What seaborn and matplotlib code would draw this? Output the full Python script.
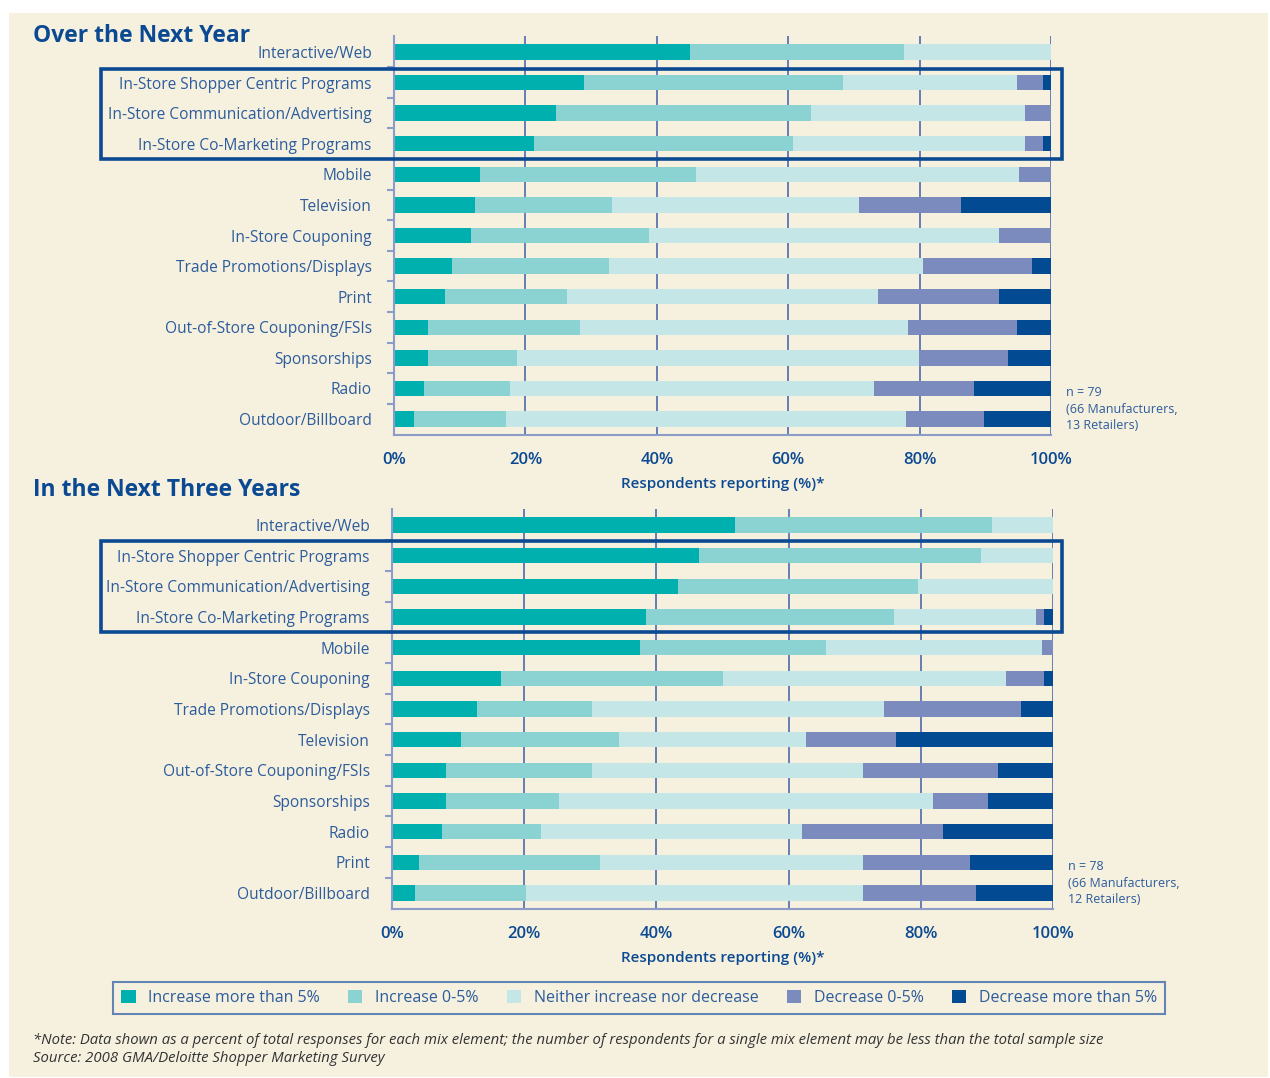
import numpy as np
import pandas as pd
import matplotlib
matplotlib.use("Agg")
import matplotlib.pyplot as plt
import seaborn as sns
from matplotlib.patches import Rectangle, Patch

# data (percent of respondents)
series = ["Increase more than 5%", "Increase 0-5%", "Neither increase nor decrease",
          "Decrease 0-5%", "Decrease more than 5%"]
colors = ["#00B0AE", "#8BD3D2", "#C5E6E6", "#7B8BBD", "#024A92"]

year1_labels = ["Interactive/Web", "In-Store Shopper Centric Programs",
                "In-Store Communication/Advertising", "In-Store Co-Marketing Programs",
                "Mobile", "Television", "In-Store Couponing", "Trade Promotions/Displays",
                "Print", "Out-of-Store Couponing/FSIs", "Sponsorships", "Radio",
                "Outdoor/Billboard"]
year1_inc5 = [45.0, 28.9, 24.6, 21.3, 13.1, 12.4, 11.7, 8.8, 7.7, 5.2, 5.2, 4.6, 3.1]
year1_inc0 = [32.6, 39.4, 38.8, 39.5, 32.9, 20.8, 27.1, 24.0, 18.6, 23.1, 13.5, 13.0, 13.9]
year1_neither = [22.4, 26.5, 32.7, 35.3, 49.1, 37.6, 53.3, 47.7, 47.4, 49.9, 61.2, 55.5, 60.9]
year1_dec0 = [0.0, 4.0, 3.9, 2.7, 4.9, 15.5, 7.9, 16.6, 18.4, 16.6, 13.6, 15.2, 11.9]
year1_dec5 = [0.0, 1.2, 0.0, 1.2, 0.0, 13.7, 0.0, 2.9, 7.9, 5.2, 6.5, 11.7, 10.2]

year3_labels = ["Interactive/Web", "In-Store Shopper Centric Programs",
                "In-Store Communication/Advertising", "In-Store Co-Marketing Programs",
                "Mobile", "In-Store Couponing", "Trade Promotions/Displays", "Television",
                "Out-of-Store Couponing/FSIs", "Sponsorships", "Radio", "Print",
                "Outdoor/Billboard"]
year3_inc5 = [51.9, 46.5, 43.3, 38.5, 37.5, 16.5, 12.8, 10.5, 8.2, 8.2, 7.6, 4.1, 3.5]
year3_inc0 = [38.8, 42.6, 36.3, 37.5, 28.1, 33.5, 17.5, 23.9, 22.0, 17.0, 15.0, 27.4, 16.8]
year3_neither = [9.3, 10.9, 20.4, 21.4, 32.8, 42.9, 44.2, 28.3, 41.1, 56.7, 39.5, 39.8, 51.0]
year3_dec0 = [0.0, 0.0, 0.0, 1.2, 1.6, 5.7, 20.7, 13.5, 20.4, 8.2, 21.3, 16.2, 17.0]
year3_dec5 = [0.0, 0.0, 0.0, 1.4, 0.0, 1.4, 4.8, 23.8, 8.3, 9.9, 16.6, 12.5, 11.7]

BG = "#F6F0DF"
TXT = "#2C5C9C"
DARK = "#0B4A92"
W, H = 1270, 1078

plt.rcParams["font.family"] = ["Open Sans", "DejaVu Sans"]

fig = plt.figure(figsize=(W / 100, H / 100), dpi=100, facecolor="white")
fig.patches.append(Rectangle((9 / W, 1 - 1077 / H), (1268 - 9) / W, (1077 - 13) / H,
                             transform=fig.transFigure, facecolor=BG, edgecolor="none", zorder=-10))


def px_axes(x0, y0, x1, y1):
    return fig.add_axes([x0 / W, 1 - y1 / H, (x1 - x0) / W, (y1 - y0) / H])


def draw_panel(ax, labels, vals, note):
    df = pd.DataFrame({"label": labels})
    cum = np.cumsum(np.array(vals), axis=0)
    # draw cumulative totals from the outside in so each segment shows
    for i in range(len(series) - 1, -1, -1):
        df["cum"] = cum[i]
        sns.barplot(data=df, x="cum", y="label", order=labels, orient="h",
                    color=colors[i], width=0.5, linewidth=0, saturation=1, ax=ax)
    ax.set_facecolor("none")
    ax.set_xlim(0, 100)
    ax.set_ylim(len(labels) - 0.48, -0.52)
    ax.set_xticks([0, 20, 40, 60, 80, 100])
    ax.set_xticklabels(["0%", "20%", "40%", "60%", "80%", "100%"],
                       fontsize=12, fontweight="semibold", color=DARK)
    ax.tick_params(axis="x", length=0, pad=12)
    ax.tick_params(axis="y", which="major", length=0, pad=16, labelsize=11.2, labelcolor=TXT)
    ax.set_yticks(np.arange(0.5, len(labels) - 1, 1), minor=True)
    ax.tick_params(axis="y", which="minor", length=5, width=1.5, color="#8C9CC8")
    ax.set_ylabel("")
    ax.set_xlabel("Respondents reporting (%)*", fontsize=11, fontweight="semibold",
                  color=DARK, labelpad=7)
    ax.set_axisbelow(True)
    ax.grid(axis="x", color="#5A74B2", linewidth=1.3)
    ax.grid(axis="y", visible=False)
    for s in ["top", "right"]:
        ax.spines[s].set_visible(False)
    for s in ["left", "bottom"]:
        ax.spines[s].set_color("#8C9CC8")
        ax.spines[s].set_linewidth(1.5)
    ax.text(1.023, 0.007, note, transform=ax.transAxes, fontsize=9, color=TXT,
            va="bottom", ha="left", linespacing=1.35)


ax1 = px_axes(394, 36, 1051, 435)
draw_panel(ax1, year1_labels, [year1_inc5, year1_inc0, year1_neither, year1_dec0, year1_dec5],
           "n = 79\n(66 Manufacturers,\n13 Retailers)")
ax2 = px_axes(392, 509, 1053, 909)
draw_panel(ax2, year3_labels, [year3_inc5, year3_inc0, year3_neither, year3_dec0, year3_dec5],
           "n = 78\n(66 Manufacturers,\n12 Retailers)")

fig.text(33 / W, 1 - 36 / H, "Over the Next Year", fontsize=16.5, fontweight="bold",
         color=DARK, va="center", ha="left")
fig.text(33 / W, 1 - 490 / H, "In the Next Three Years", fontsize=16.5, fontweight="bold",
         color=DARK, va="center", ha="left")

for (x0, y0, x1, y1) in [(101, 69, 1062, 159), (101, 541, 1062, 632)]:
    fig.patches.append(Rectangle((x0 / W, 1 - y1 / H), (x1 - x0) / W, (y1 - y0) / H,
                                 transform=fig.transFigure, fill=False,
                                 edgecolor=DARK, linewidth=2.6, zorder=20))

handles = [Patch(facecolor=c, edgecolor="none", label=s) for c, s in zip(colors, series)]
leg = fig.legend(handles=handles, loc="center", bbox_to_anchor=(639 / W, 1 - 998 / H),
                 ncol=5, fontsize=11.5, frameon=True, fancybox=False, handlelength=0.9,
                 handleheight=0.9, handletextpad=0.8, columnspacing=1.75,
                 borderpad=0.5, labelcolor=TXT)
leg.get_frame().set_edgecolor("#3D6BA8")
leg.get_frame().set_linewidth(1.5)
leg.get_frame().set_facecolor(BG)

fig.text(33 / W, 1 - 1040 / H,
         "*Note: Data shown as a percent of total responses for each mix element; the number of "
         "respondents for a single mix element may be less than the total sample size",
         fontsize=10.7, style="italic", color="#333333", va="center", ha="left")
fig.text(33 / W, 1 - 1059 / H, "Source: 2008 GMA/Deloitte Shopper Marketing Survey",
         fontsize=10.7, style="italic", color="#333333", va="center", ha="left")

fig.savefig("out.png", dpi=100, facecolor="white")
